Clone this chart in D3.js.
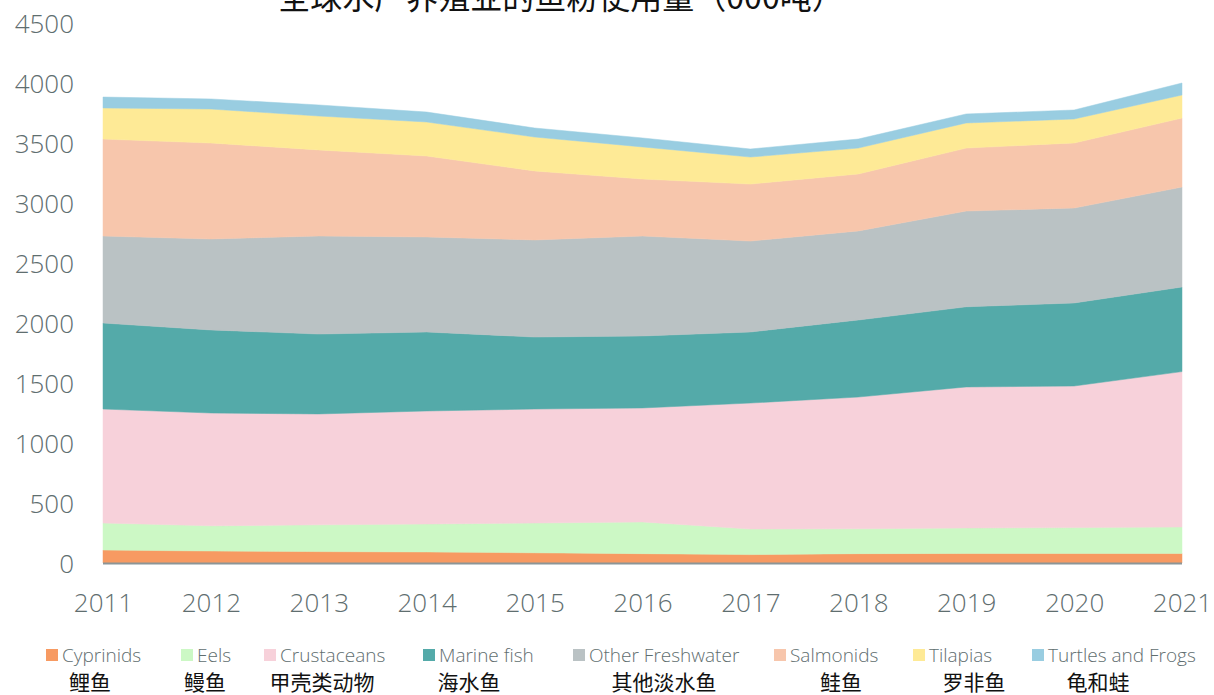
<!DOCTYPE html>
<html>
<head>
<meta charset="utf-8">
<script src="https://cdn.jsdelivr.net/npm/d3@7"></script>
<style>
  html, body { margin: 0; padding: 0; background: #fff; }
  svg { display: block; }
</style>
</head>
<body>
<svg id="chart" width="1214" height="695"></svg>
<script>
const years = [2011, 2012, 2013, 2014, 2015, 2016, 2017, 2018, 2019, 2020, 2021];
const seriesNames = ["Cyprinids", "Eels", "Crustaceans", "Marine fish", "Other Freshwater", "Salmonids", "Tilapias", "Turtles and Frogs"];
const seriesNamesZh = ["鲤鱼", "鳗鱼", "甲壳类动物", "海水鱼", "其他淡水鱼", "鲑鱼", "罗非鱼", "龟和蛙"];
const cyprinids   = [108, 100, 95, 92, 85, 78, 70, 78, 80, 80, 80];
const eels        = [225, 210, 223, 233, 248, 264, 213, 207, 212, 215, 220];
const crustaceans = [950, 940, 924, 942, 950, 950, 1050, 1098, 1175, 1180, 1295];
const marineFish  = [717, 692, 666, 658, 600, 600, 592, 642, 668, 692, 705];
const otherFresh  = [725, 758, 817, 792, 809, 833, 758, 742, 798, 791, 833];
const salmonids   = [808, 800, 717, 675, 575, 475, 475, 475, 525, 542, 575];
const tilapias    = [259, 283, 283, 283, 283, 267, 225, 216, 209, 200, 192];
const turtles     = [91, 84, 92, 83, 75, 75, 67, 75, 75, 75, 100];
const yTicks = [0, 500, 1000, 1500, 2000, 2500, 3000, 3500, 4000, 4500];
const title = "全球水产养殖业的鱼粉使用量（000吨）";

const colors = ["#f79a62", "#ccf8c5", "#f7d1da", "#54aaa9", "#bac2c4", "#f7c6ac", "#feea96", "#99cde1"];
const allSeries = [cyprinids, eels, crustaceans, marineFish, otherFresh, salmonids, tilapias, turtles];

const table = years.map((yr, i) => {
  const row = { year: yr };
  seriesNames.forEach((n, k) => row[n] = allSeries[k][i]);
  return row;
});

const svg = d3.select("#chart");
const x = d3.scaleLinear().domain([2011, 2021]).range([103, 1182]);
const y = d3.scaleLinear().domain([0, 4500]).range([563, 23]);

const layers = d3.stack().keys(seriesNames)(table);

const area = d3.area()
  .x(d => x(d.data.year))
  .y0(d => y(d[0]))
  .y1(d => y(d[1]))
  .curve(d3.curveLinear);

svg.append("g").selectAll("path")
  .data(layers)
  .join("path")
  .attr("d", area)
  .attr("fill", (d, i) => colors[i])
  .attr("stroke", (d, i) => colors[i])
  .attr("stroke-width", 0.5);

svg.append("line")
  .attr("x1", x(2011)).attr("x2", x(2021))
  .attr("y1", y(0) + 0.5).attr("y2", y(0) + 0.5)
  .attr("stroke", "#8c9597").attr("stroke-width", 2);

const textColor = "#5f6e6f";
const font = "'Open Sans', 'Noto Sans', sans-serif";

const yAxis = d3.axisLeft(y).tickValues(yTicks).tickFormat(d3.format("d")).tickSize(0).tickPadding(0);
const gy = svg.append("g").attr("transform", "translate(74,0)").call(yAxis);
gy.select(".domain").remove();
gy.selectAll("text")
  .attr("fill", textColor)
  .style("font-family", font)
  .style("font-weight", "300")
  .style("font-size", "26px")
  .attr("dy", "0.35em");

const xAxis = d3.axisBottom(x).tickValues(years).tickFormat(d3.format("d")).tickSize(0).tickPadding(0);
const gx = svg.append("g").attr("transform", "translate(0,603)").call(xAxis);
gx.select(".domain").remove();
gx.selectAll("text")
  .attr("fill", textColor)
  .attr("y", 0)
  .attr("dy", "0.35em")
  .style("font-family", font)
  .style("font-weight", "300")
  .style("font-size", "26px");

svg.append("text")
  .attr("x", 561).attr("y", 9)
  .attr("text-anchor", "middle")
  .attr("fill", "#111")
  .style("font-family", "'Noto Sans CJK SC', sans-serif")
  .style("font-size", "32px")
  .text(title);

const legendSquareX = [46, 181, 264, 423, 573, 774, 913, 1032];
const legendZhX = [90, 205, 322, 469, 664, 841, 974, 1098];
const lg = svg.append("g");
seriesNames.forEach((n, i) => {
  lg.append("rect")
    .attr("x", legendSquareX[i]).attr("y", 649)
    .attr("width", 12).attr("height", 12)
    .attr("fill", colors[i]);
  lg.append("text")
    .attr("x", legendSquareX[i] + 16).attr("y", 655)
    .attr("dy", "0.35em")
    .attr("fill", textColor)
    .style("font-family", font)
    .style("font-weight", "300")
    .style("font-size", "19px")
    .text(n);
  lg.append("text")
    .attr("x", legendZhX[i]).attr("y", 683)
    .attr("dy", "0.35em")
    .attr("text-anchor", "middle")
    .attr("fill", "#111")
    .style("font-family", "'Noto Sans CJK SC', sans-serif")
    .style("font-size", "21px")
    .text(seriesNamesZh[i]);
});
</script>
</body>
</html>
